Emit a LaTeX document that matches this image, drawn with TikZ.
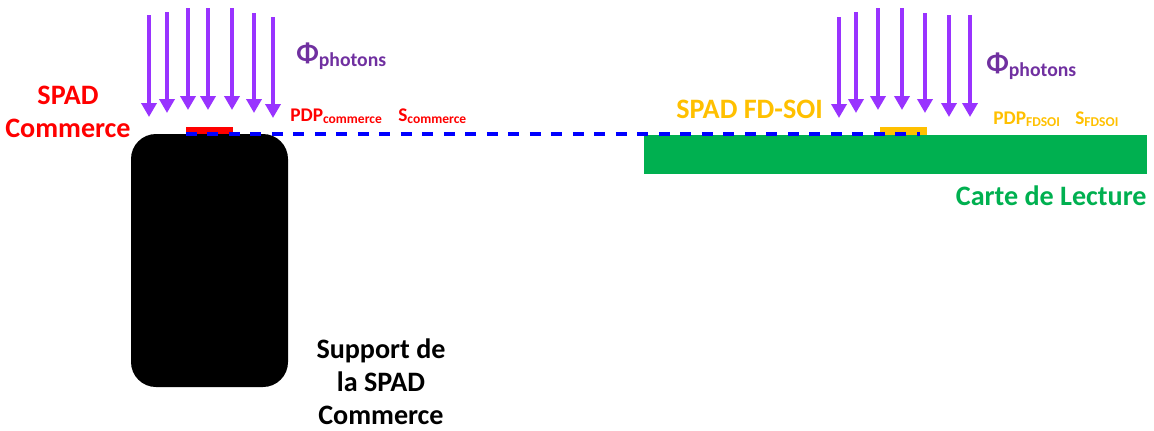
\documentclass[tikz,border=0pt]{standalone}
\usepackage{fontspec}
\setmainfont{Carlito}
\usetikzlibrary{arrows.meta}

\definecolor{spadred}{RGB}{255,0,0}
\definecolor{fdsoiorange}{RGB}{255,192,0}
\definecolor{cartegreen}{RGB}{0,176,80}
\definecolor{photonviolet}{RGB}{153,51,255}
\definecolor{phiviolet}{RGB}{112,48,160}

\tikzset{
    photon/.style={photonviolet, line width=2.2pt, -{Triangle[width=3mm, length=2.8mm]}},
    titre/.style={font=\bfseries\fontsize{16}{18.7}\selectfont, align=center},
    grandeur/.style={font=\bfseries\fontsize{11}{13}\selectfont, anchor=base west, inner sep=0pt},
}

\begin{document}
\begin{tikzpicture}[x=0.02cm, y=-0.02cm]
    \useasboundingbox (0,0) rectangle (1154,430);

    \coordinate (L) at (186,134);
    \coordinate (R) at (920,134);

    % carte de lecture + SPAD FD-SOI
    \fill[cartegreen] (644,135) rectangle (1147,174);
    \fill[fdsoiorange] (880,127) rectangle (927,135);

    % support de la SPAD commerce
    \fill[black, rounded corners=0.5cm] (131,134) rectangle (288,387);
    \fill[spadred] (186,127) rectangle (233,134);

    \draw[blue, line width=2.2pt, dash pattern=on 0.22cm off 0.21cm] (L) -- (R);

    % photons
    \foreach \x/\a/\b in {149/15/117, 167/12/113, 188/8/110, 208/8/110, 232/8/110, 254/13/113, 273/17/118}
        \draw[photon] (\x,\a) -- (\x,\b);
    \foreach \x/\a/\b in {839/17/118, 856/12/113, 878/8/110, 902/8/110, 925/13/113, 949/15/117, 970/15/117}
        \draw[photon] (\x,\a) -- (\x,\b);

    \node[titre, spadred] (spadc) at (68,112) {SPAD\\Commerce};
    \node[titre, anchor=base, inner sep=0pt] (support) at (381,424) {Support de\\la SPAD\\Commerce};
    \node[titre, fdsoiorange, anchor=base west, inner sep=0pt] (spadf) at (676,118) {SPAD FD-SOI};
    \node[titre, cartegreen, anchor=base east, inner sep=0pt] (carte) at (1147,205) {Carte de Lecture};

    \node[grandeur, phiviolet, font=\bfseries\fontsize{16}{18}\selectfont] (phil) at (296,62)
        {Φ\textsubscript{photons}};
    \node[grandeur, phiviolet, font=\bfseries\fontsize{16}{18}\selectfont] (phir) at (986,72)
        {Φ\textsubscript{photons}};

    \node[grandeur, spadred] (pdpc) at (290,121) {PDP\textsubscript{commerce}};
    \node[grandeur, spadred] (sc) at (398,121) {S\textsubscript{commerce}};
    \node[grandeur, fdsoiorange] (pdpf) at (993,124) {PDP\textsubscript{FDSOI}};
    \node[grandeur, fdsoiorange] (sf) at (1075,124) {S\textsubscript{FDSOI}};
\end{tikzpicture}
\end{document}
